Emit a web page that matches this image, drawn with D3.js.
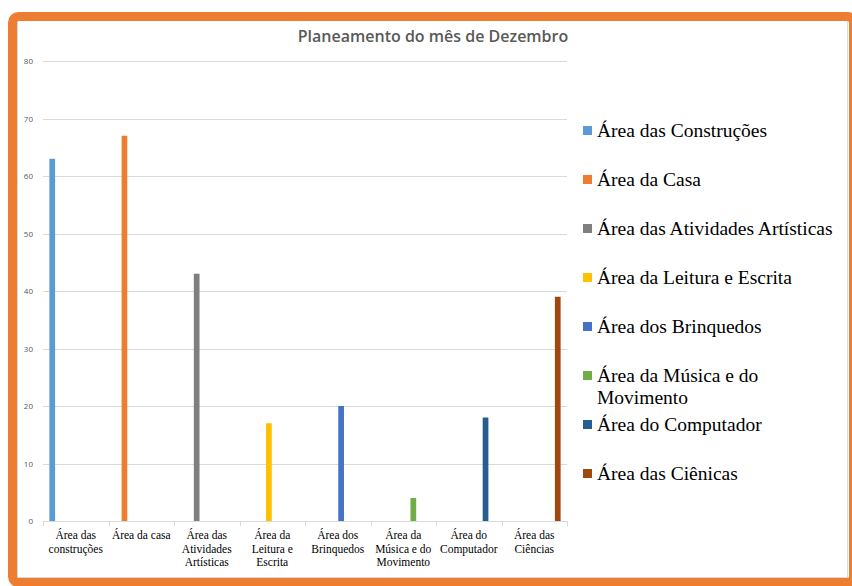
<!DOCTYPE html>
<html>
<head>
  <meta charset="utf-8">
  <title>Planeamento do mês de Dezembro</title>
  <script src="https://d3js.org/d3.v7.min.js"></script>
  <style>
    body { margin: 0; background: #fff; }
    .grid line { stroke: #d9d9d9; stroke-width: 1px; }
    .ylab { font-family: "Open Sans", sans-serif; font-size: 8px; fill: #595959; }
    .xlab { font-family: "Liberation Serif", "Times New Roman", serif; font-size: 11.5px; fill: #000; }
    .leg { font-family: "Liberation Serif", "Times New Roman", serif; font-size: 19.5px; fill: #000; }
  </style>
</head>
<body>
<div id="chart"></div>
<script>
  // categories on the x axis (\n = line break as in the original)
  var categories = ["Área das\nconstruções", "Área da casa", "Área das\nAtividades\nArtísticas",
    "Área da\nLeitura e\nEscrita", "Área dos\nBrinquedos", "Área da\nMúsica e do\nMovimento",
    "Área do\nComputador", "Área das\nCiências"];

  // one series per area, each only has a value in its own category
  var seriesNames = ["Área das Construções", "Área da Casa", "Área das Atividades Artísticas",
    "Área da Leitura e Escrita", "Área dos Brinquedos", "Área da Música e do Movimento",
    "Área do Computador", "Área das Ciênicas"];
  var seriesValues = [63, 67, 43, 17, 20, 4, 18, 39];
  var seriesColors = ["#5b9bd5", "#ed7d31", "#7f7f7f", "#ffc000", "#4472c4", "#70ad47", "#255e91", "#9e480e"];

  var yTicks = [0, 10, 20, 30, 40, 50, 60, 70, 80];

  var W = 852, H = 586;
  var svg = d3.select("#chart").append("svg").attr("width", W).attr("height", H);

  //frame
  svg.append("rect").attr("x", 17.5).attr("y", 20.5).attr("width", 830).attr("height", 557)
    .attr("fill", "#fff").attr("stroke", "#d9d9d9");
  svg.append("rect").attr("x", 12.5).attr("y", 16.5).attr("width", 841).attr("height", 566)
    .attr("rx", 6).attr("fill", "none").attr("stroke", "#ed7d31").attr("stroke-width", 9);

  //title
  svg.append("text").attr("x", 433).attr("y", 42).attr("text-anchor", "middle")
    .style("font-family", "'Open Sans', sans-serif").style("font-weight", "600")
    .style("font-size", "16px").style("fill", "#595959")
    .text("Planeamento do mês de Dezembro");

  var plot = { left: 43, right: 567, top: 61, bottom: 521 };

  var x0 = d3.scaleBand().domain(d3.range(categories.length)).range([plot.left, plot.right]);
  var x1 = d3.scaleBand().domain(d3.range(seriesNames.length)).range([0, x0.bandwidth()])
    .paddingInner(0.15).paddingOuter(0.95);
  var y = d3.scaleLinear().domain([0, 80]).range([plot.bottom, plot.top]);

  //gridlines
  var grid = svg.append("g").attr("class", "grid");
  grid.selectAll("line").data(yTicks.slice(1)).enter().append("line")
    .attr("x1", plot.left).attr("x2", plot.right)
    .attr("y1", function(d) { return Math.round(y(d)) + 0.5; })
    .attr("y2", function(d) { return Math.round(y(d)) + 0.5; });

  svg.selectAll(".ylab").data(yTicks).enter().append("text")
    .attr("class", "ylab").attr("x", 33).attr("y", function(d) { return y(d) + 3; })
    .attr("text-anchor", "end").text(function(d) { return d; });

  //bars: series i drawn in category i
  svg.selectAll(".bar").data(seriesValues).enter().append("rect")
    .attr("class", "bar")
    .attr("x", function(d, i) { return x0(i) + x1(i); })
    .attr("width", x1.bandwidth())
    .attr("y", function(d) { return y(d); })
    .attr("height", function(d) { return y(0) - y(d); })
    .attr("fill", function(d, i) { return seriesColors[i]; });

  //x axis
  svg.append("line").attr("x1", plot.left).attr("x2", plot.right)
    .attr("y1", plot.bottom + 0.5).attr("y2", plot.bottom + 0.5).attr("stroke", "#d9d9d9");
  svg.selectAll(".xtick").data(d3.range(categories.length + 1)).enter().append("line")
    .attr("x1", function(i) { return Math.round(plot.left + i * x0.step()) + 0.5; })
    .attr("x2", function(i) { return Math.round(plot.left + i * x0.step()) + 0.5; })
    .attr("y1", plot.bottom).attr("y2", plot.bottom + 5).attr("stroke", "#d9d9d9");

  var xl = svg.selectAll(".xlab").data(categories).enter().append("text")
    .attr("class", "xlab").attr("text-anchor", "middle");
  xl.each(function(d, i) {
    var t = d3.select(this);
    d.split("\n").forEach(function(line, k) {
      t.append("tspan").attr("x", x0(i) + x0.bandwidth() / 2).attr("y", 539 + k * 13.5).text(line);
    });
  });

  //legend
  var leg = svg.selectAll(".legitem").data(seriesNames).enter().append("g")
    .attr("transform", function(d, i) { return "translate(583," + (130.5 + i * 49) + ")"; });
  leg.append("rect").attr("x", 0).attr("y", -4.5).attr("width", 9).attr("height", 9)
    .attr("fill", function(d, i) { return seriesColors[i]; });
  leg.append("text").attr("class", "leg").each(function(d) {
    var t = d3.select(this), words = d.split(" "), line = [], k = 0;
    var ts = t.append("tspan").attr("x", 14).attr("y", 6.5);
    words.forEach(function(w) {
      line.push(w);
      ts.text(line.join(" "));
      if (ts.node().getComputedTextLength() > 248 && line.length > 1) {
        line.pop();
        ts.text(line.join(" "));
        line = [w];
        k++;
        ts = t.append("tspan").attr("x", 14).attr("y", 6.5 + k * 21.5).text(w);
      }
    });
  });
</script>
</body>
</html>
